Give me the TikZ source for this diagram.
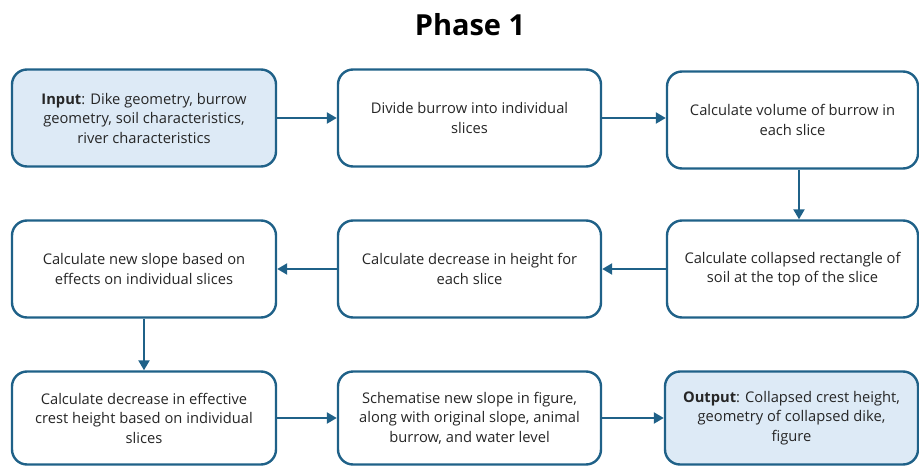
\documentclass[tikz,border=0pt]{standalone}
\usepackage{fontspec}
\setmainfont{Open Sans}
\usetikzlibrary{arrows.meta}
\definecolor{edgeblue}{HTML}{1F6188}
\definecolor{ioblue}{HTML}{DDEAF6}
\definecolor{bodytext}{HTML}{262626}
\begin{document}
\begin{tikzpicture}[x=1pt,y=-1pt,
  stepbox/.style={draw=edgeblue, line width=2.4pt, rounded corners=15pt,
    fill=white, align=center, inner sep=0pt,
    text=bodytext, font=\fontsize{14.7}{19.5}\selectfont},
  iobox/.style={stepbox, fill=ioblue},
  arr/.style={draw=edgeblue, line width=2.2pt,
    -{Triangle[length=10pt,width=11pt]}}]
\useasboundingbox (0,0) rectangle (919,466);
% title
\node[font=\fontsize{29}{34}\bfseries\selectfont] (title) at (470,25) {Phase 1};
% first row
\node[iobox, minimum width=264pt, minimum height=97pt] (r1c1) at (144,118)
  {\textbf{Input}: Dike geometry, burrow\\geometry, soil characteristics,\\river characteristics};
\node[stepbox, minimum width=263pt, minimum height=97pt] (r1c2) at (469.5,118)
  {Divide burrow into individual\\slices};
\node[stepbox, minimum width=251pt, minimum height=97pt] (r1c3) at (792.5,120)
  {Calculate volume of burrow in\\each slice};
% second row
\node[stepbox, minimum width=264pt, minimum height=97pt] (r2c1) at (144,269)
  {Calculate new slope based on\\effects on individual slices};
\node[stepbox, minimum width=263pt, minimum height=97pt] (r2c2) at (469.5,269)
  {Calculate decrease in height for\\each slice};
\node[stepbox, minimum width=251pt, minimum height=97pt] (r2c3) at (792.5,269)
  {Calculate collapsed rectangle of\\soil at the top of the slice};
% third row
\node[stepbox, minimum width=264pt, minimum height=93pt] (r3c1) at (144,418)
  {Calculate decrease in effective\\crest height based on individual\\slices};
\node[stepbox, minimum width=263pt, minimum height=93pt] (r3c2) at (469.5,418)
  {Schematise new slope in figure,\\along with original slope, animal\\burrow, and water level};
\node[iobox, minimum width=253pt, minimum height=93pt] (r3c3) at (791.5,418)
  {\textbf{Output}: Collapsed crest height,\\geometry of collapsed dike,\\figure};
% connectors
\draw[arr] (r1c1.east) -- (r1c2.west);
\draw[arr] (r1c2.east) -- (r1c3.west |- r1c2.east);
\draw[arr] ([xshift=6.5pt]r1c3.south) -- ([xshift=6.5pt]r2c3.north);
\draw[arr] (r2c3.west) -- (r2c2.east);
\draw[arr] (r2c2.west) -- (r2c1.east);
\draw[arr] (r2c1.south) -- (r3c1.north);
\draw[arr] (r3c1.east) -- (r3c2.west);
\draw[arr] (r3c2.east) -- (r3c3.west);
\end{tikzpicture}
\end{document}
